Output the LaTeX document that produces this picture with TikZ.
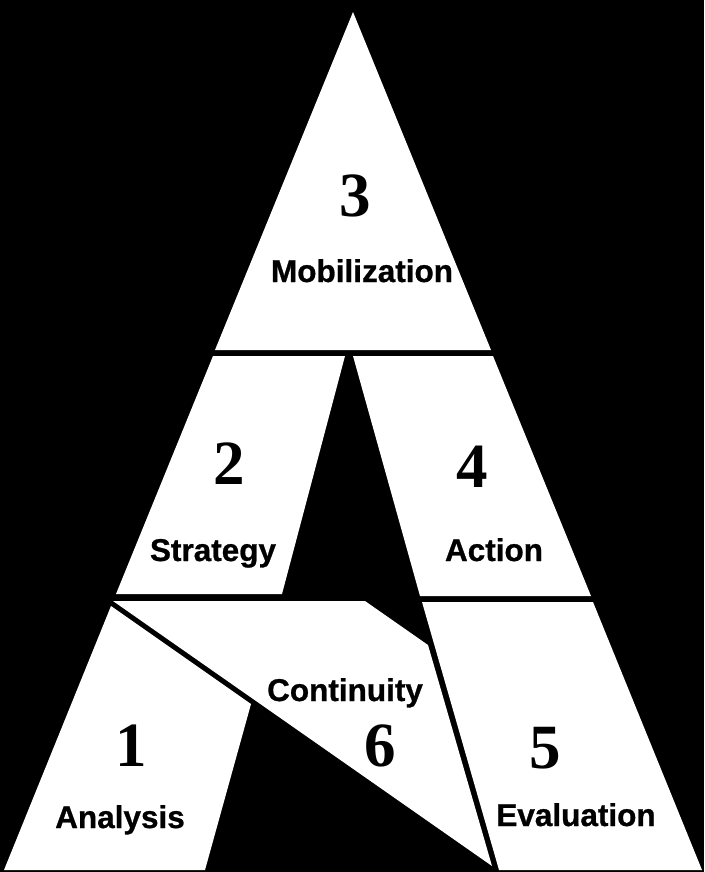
\documentclass[tikz,border=0pt]{standalone}
\usepackage{fontspec}
\setmainfont{Liberation Serif}
\newfontfamily\lblfont[BoldFeatures={FakeBold=0.8}]{Liberation Sans}
\begin{document}
\begin{tikzpicture}[x=1pt,y=-1pt,
  piece/.style={fill=white},
  num/.style={font=\fontsize{63}{63}\selectfont\bfseries, anchor=base, inner sep=0pt},
  lbl/.style={font=\lblfont\fontsize{31.5}{31.5}\selectfont\bfseries, anchor=base, inner sep=0pt}]
\fill[black] (0,0) rectangle (704,872);
\useasboundingbox (0,0) rectangle (704,872);
% pieces
\fill[piece] (353,12) -- (491,350) -- (215,350) -- cycle;
\fill[piece] (213,356) -- (345,356) -- (282,594) -- (116,594) -- cycle;
\fill[piece] (353,356) -- (493,356) -- (591,596) -- (420,596) -- cycle;
\fill[piece] (113,601) -- (365,601) -- (428,645) -- (492,866) -- cycle;
\fill[piece] (111,606) -- (251,704) -- (205,870) -- (4,870) -- cycle;
\fill[piece] (422,602) -- (593,602) -- (702,870) -- (499,870) -- cycle;
% texts
\node[num] (n3) at (355,216) {3};
\node[lbl] (t3) at (362,282) {Mobilization};
\node[num] (n2) at (229,484) {2};
\node[lbl] (t2) at (213,561) {Strategy};
\node[num] (n4) at (472,487) {4};
\node[lbl] (t4) at (494,561) {Action};
\node[lbl] (t6) at (345,701) {Continuity};
\node[num] (n6) at (380,766) {6};
\node[num] (n1) at (131,766) {1};
\node[num] (n5) at (545,768) {5};
\node[lbl] (t1) at (120,828) {Analysis};
\node[lbl] (t5) at (576,826) {Evaluation};
\end{tikzpicture}
\end{document}
